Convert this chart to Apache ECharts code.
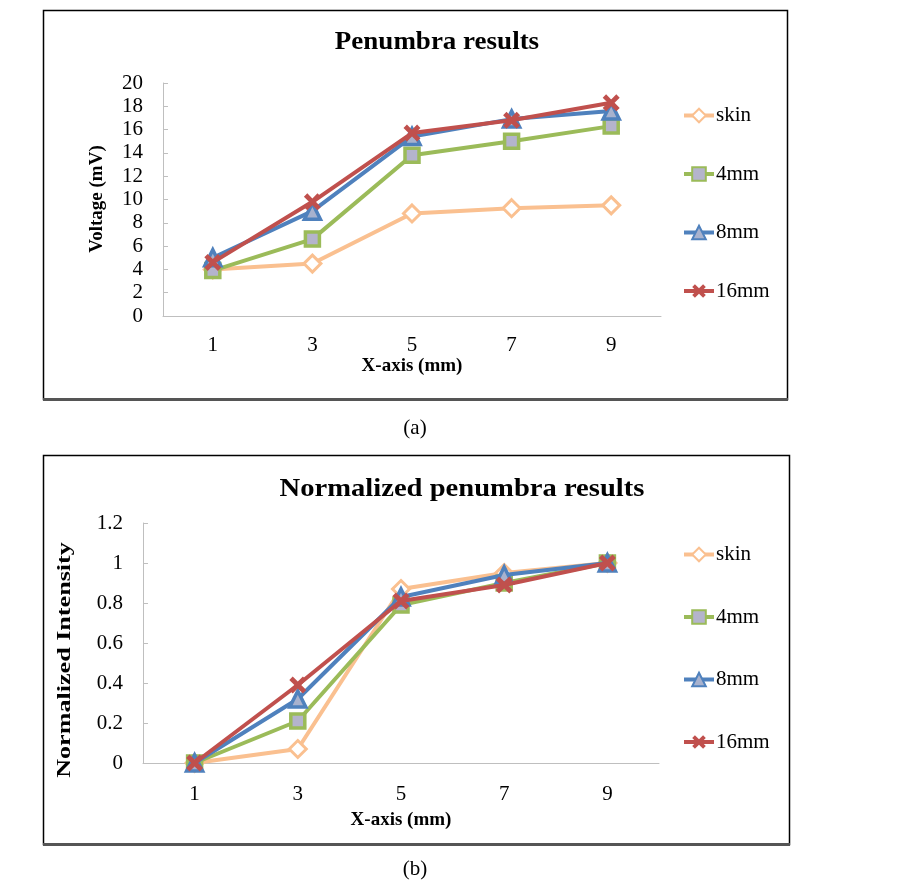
<!DOCTYPE html>
<html>
<head>
<meta charset="utf-8">
<script src="https://cdn.jsdelivr.net/npm/echarts@6/dist/echarts.min.js"></script>
<style>
html,body{margin:0;padding:0;background:#fff;}
#c{width:919px;height:895px;}
</style>
</head>
<body>
<div id="c"></div>
<script>
const categories = ['1', '3', '5', '7', '9'];
const seriesNames = ['skin', '4mm', '8mm', '16mm'];
const voltSkin = [4.0, 4.5, 8.8, 9.25, 9.5];
const volt4mm = [3.9, 6.6, 13.8, 15.0, 16.3];
const volt8mm = [5.0, 9.0, 15.4, 16.9, 17.6];
const volt16mm = [4.6, 9.8, 15.7, 16.8, 18.3];
const normSkin = [0, 0.07, 0.87, 0.95, 1.0];
const norm4mm = [0, 0.21, 0.79, 0.90, 1.0];
const norm8mm = [0, 0.32, 0.83, 0.94, 1.0];
const norm16mm = [0, 0.39, 0.81, 0.89, 1.0];

const SERIF = '"Liberation Serif", "Times New Roman", serif';
const colors = ['#FAC090', '#9BBB59', '#4F81BD', '#C0504D'];
const crossPath = 'path://M2,0 L5,3 L8,0 L10,2 L7,5 L10,8 L8,10 L5,7 L2,10 L0,8 L3,5 L0,2 Z';

function styleFor(i) {
  const base = {lineStyle: {color: colors[i], width: 4}, color: colors[i]};
  if (i === 0) return Object.assign(base, {symbol: 'diamond', symbolSize: 17,
    itemStyle: {color: '#ffffff', borderColor: colors[i], borderWidth: 3}});
  if (i === 1) return Object.assign(base, {symbol: 'rect', symbolSize: 14,
    itemStyle: {color: '#B4B4CC', borderColor: colors[i], borderWidth: 3.5}});
  if (i === 2) return Object.assign(base, {symbol: 'triangle', symbolSize: 16,
    itemStyle: {color: '#A8B2CE', borderColor: colors[i], borderWidth: 3.5}});
  return Object.assign(base, {symbol: crossPath, symbolSize: 17,
    itemStyle: {color: colors[i], borderWidth: 0}});
}

function makeSeries(data, idx, axisIdx) {
  return Object.assign({
    type: 'line', name: seriesNames[idx], data: data,
    xAxisIndex: axisIdx, yAxisIndex: axisIdx, showSymbol: true, z: 2 + idx,
    emphasis: {disabled: true}, animation: false
  }, styleFor(idx));
}

const axisGray = '#BFBFBF';
function xAxisCfg(gridIndex, nameGap, margin) {
  return {
    type: 'category', gridIndex: gridIndex, data: categories, boundaryGap: true,
    axisLine: {lineStyle: {color: axisGray, width: 1}},
    axisTick: {inside: true, length: 5, lineStyle: {color: axisGray}},
    axisLabel: {color: '#000', fontFamily: SERIF, fontSize: 21, margin: margin},
    splitLine: {show: false},
    name: 'X-axis (mm)', nameLocation: 'middle', nameGap: nameGap,
    nameTextStyle: {color: '#000', fontFamily: SERIF, fontSize: 19, fontWeight: 'bold'}
  };
}
function yAxisCfg(gridIndex, max, interval, margin) {
  return {
    type: 'value', gridIndex: gridIndex, min: 0, max: max, interval: interval,
    axisLine: {show: true, lineStyle: {color: axisGray, width: 1}},
    axisTick: {show: true, inside: true, length: 5, lineStyle: {color: axisGray}},
    axisLabel: {color: '#000', fontFamily: SERIF, fontSize: 21, margin: margin},
    splitLine: {show: false}
  };
}
function legendCfg(top, gap) {
  return {
    orient: 'vertical', left: 677, top: top, itemGap: gap,
    itemWidth: 30, itemHeight: 17, data: seriesNames,
    lineStyle: {width: 4},
    textStyle: {color: '#000', fontFamily: SERIF, fontSize: 21, lineHeight: 21, padding: [0, 0, 0, -3]},
    selectedMode: false
  };
}

const chart = echarts.init(document.getElementById('c'), null, {renderer: 'canvas'});
const option = {
  backgroundColor: '#fff',
  animation: false,
  grid: [
    {left: 163, top: 83, width: 498, height: 233},
    {left: 143, top: 523, width: 516, height: 240}
  ],
  xAxis: [xAxisCfg(0, 40, 19), xAxisCfg(1, 48, 21)],
  yAxis: [yAxisCfg(0, 20, 2, 20), yAxisCfg(1, 1.2, 0.2, 20)],
  legend: [legendCfg(100, 37.5), legendCfg(539, 41.5)],
  series: [
    makeSeries(voltSkin, 0, 0), makeSeries(volt4mm, 1, 0),
    makeSeries(volt8mm, 2, 0), makeSeries(volt16mm, 3, 0),
    makeSeries(normSkin, 0, 1), makeSeries(norm4mm, 1, 1),
    makeSeries(norm8mm, 2, 1), makeSeries(norm16mm, 3, 1)
  ],
  graphic: [
    {type: 'rect', shape: {x: 43.5, y: 10.5, width: 744, height: 389}, style: {fill: 'none', stroke: '#000', lineWidth: 1.5}, z: 0},
    {type: 'line', shape: {x1: 43, y1: 399.5, x2: 788, y2: 399.5}, style: {stroke: '#555', lineWidth: 3}, z: 1},
    {type: 'rect', shape: {x: 43.5, y: 455.5, width: 746, height: 389}, style: {fill: 'none', stroke: '#000', lineWidth: 1.5}, z: 0},
    {type: 'line', shape: {x1: 43, y1: 844.5, x2: 790, y2: 844.5}, style: {stroke: '#555', lineWidth: 3}, z: 1},
    {type: 'text', x: 437, y: 43, style: {text: 'Penumbra results', font: 'bold 25px ' + SERIF, fill: '#000', textAlign: 'center', textVerticalAlign: 'middle'}, scaleX: 1.08},
    {type: 'text', x: 462, y: 489, style: {text: 'Normalized penumbra results', font: 'bold 26px ' + SERIF, fill: '#000', textAlign: 'center', textVerticalAlign: 'middle'}, scaleX: 1.1},
    {type: 'text', x: 97, y: 199, rotation: Math.PI / 2, style: {text: 'Voltage (mV)', font: 'bold 19px ' + SERIF, fill: '#000', textAlign: 'center', textVerticalAlign: 'middle'}},
    {type: 'text', x: 65, y: 660, rotation: Math.PI / 2, scaleX: 1.45, style: {text: 'Normalized Intensity', font: 'bold 18px ' + SERIF, fill: '#000', textAlign: 'center', textVerticalAlign: 'middle'}},
    {type: 'text', x: 415, y: 428, style: {text: '(a)', font: '21px ' + SERIF, fill: '#000', textAlign: 'center', textVerticalAlign: 'middle'}},
    {type: 'text', x: 415, y: 869, style: {text: '(b)', font: '21px ' + SERIF, fill: '#000', textAlign: 'center', textVerticalAlign: 'middle'}}
  ]
};
chart.setOption(option);
</script>
</body>
</html>
